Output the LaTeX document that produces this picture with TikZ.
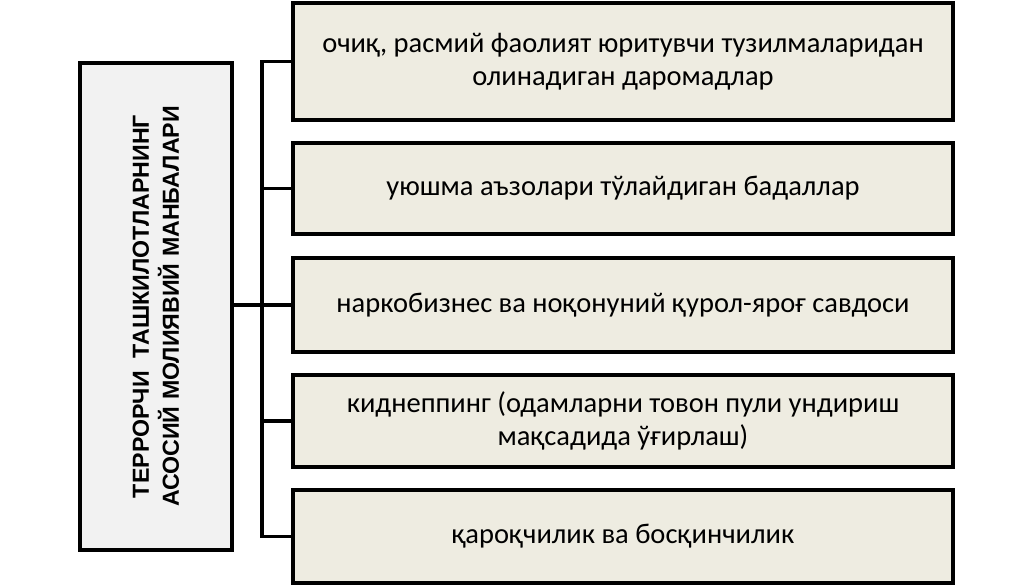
\documentclass[tikz,border=0pt]{standalone}
\usepackage{fontspec}
\setmainfont{Carlito}
\newfontfamily\titlefont{Liberation Sans}
\definecolor{beige}{HTML}{EEECE1}
\definecolor{lightgr}{HTML}{F2F2F2}
\begin{document}
\begin{tikzpicture}[x=1pt,y=-1pt,
  item/.style={draw=black, line width=3.2pt, fill=beige, minimum width=660pt, align=center,
    font=\fontsize{28.5}{33}\selectfont, inner sep=0pt},
  title/.style={draw=black, line width=3.2pt, fill=lightgr, minimum width=152pt, minimum height=487pt, inner sep=0pt},
  conn/.style={line width=3.2pt}]
\useasboundingbox (0,0) rectangle (1034,585);
\node[title] (L) at (156,306.5) {};
\node[rotate=90, align=center, font=\titlefont\bfseries\fontsize{23.2}{30}\selectfont] (T) at (L.center) {ТЕРРОРЧИ\ \ ТАШКИЛОТЛАРНИНГ\\АСОСИЙ МОЛИЯВИЙ МАНБАЛАРИ};
\node[item, minimum height=117pt] (b1) at (623,61.5) {очиқ,\ расмий фаолият юритувчи тузилмаларидан\\олинадиган даромадлар};
\node[item, minimum height=91pt] (b2) at (623,188.5) {уюшма аъзолари тўлайдиган бадаллар};
\node[item, minimum height=94pt] (b3) at (623,305) {наркобизнес ва ноқонуний\ қурол-яроғ савдоси};
\node[item, minimum height=92pt] (b4) at (623,421) {киднеппинг (одамларни товон пули ундириш\\мақсадида ўғирлаш)};
\node[item, minimum height=93pt] (b5) at (623,536.5) {қароқчилик ва босқинчилик};
\coordinate (bus) at (262,0);
\draw[conn] (b1.west) -- (b1.west -| bus) -- (b5.west -| bus) -- (b5.west);
\draw[conn] (b2.west) -- (b2.west -| bus);
\draw[conn] (b4.west) -- (b4.west -| bus);
\draw[conn] (L.east |- b3.west) -- (b3.west);
\end{tikzpicture}
\end{document}
